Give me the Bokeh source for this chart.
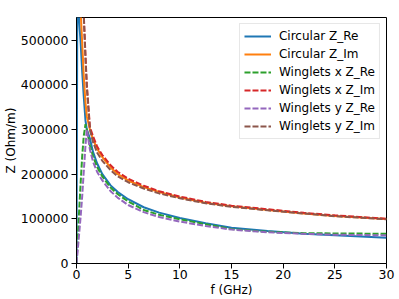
import numpy as np
from bokeh.plotting import figure
from bokeh.models import Range1d, FixedTicker, BasicTickFormatter
from bokeh.embed import file_html
from bokeh.resources import INLINE

# Frequency grid (GHz)
freq = [0, 0.1, 0.25, 0.4, 0.55, 0.7, 0.87, 1.0, 1.3, 1.6, 2, 2.5, 3.3, 4, 5, 6.5, 8,
        10, 12.5, 15, 18.5, 22, 25, 30]

# Impedance values (Ohm/m)
circ_re = [0, 750000, 545000, 495000, 430000, 375000, 320000, 300000, 280000, 250000,
           224000, 200000, 175000, 160000, 144000, 126000, 114000,
           102000, 90000, 80000, 72600, 66500, 63000, 57600]
circ_im = [None, 900000, 650000, 565000, 495000, 420000, 360000, 330000, 300000, 278000,
           257000, 238000, 215000, 200000, 186000, 171000, 160000,
           148000, 136000, 128000, 120000, 112000, 106500, 99500]
wx_re = [0, 45000, 115000, 180000, 240000, 285000, 312000, 300000, 265000, 240000,
         216000, 195000, 170000, 155000, 139000, 120000, 109000,
         99000, 88000, 77000, 71000, 68000, 67300, 66600]
wx_im = [None, 1500000, 1000000, 780000, 640000, 560000, 465000, 400000, 305000, 285000,
         262000, 243000, 220000, 205000, 190000, 174000, 162000,
         150000, 138000, 129500, 121500, 113500, 107800, 100300]
wy_re = [0, 25000, 65000, 105000, 150000, 205000, 265000, 300000, 255000, 228000,
         205000, 186000, 162000, 147000, 131000, 115000, 104000,
         94000, 84000, 76000, 70000, 66500, 64500, 62900]
wy_im = [None, 1500000, 1000000, 780000, 640000, 555000, 460000, 395000, 300000, 272000,
         248000, 230000, 209000, 195000, 182000, 168000, 157000,
         146000, 135000, 127000, 119000, 112000, 106000, 99000]

x_ticks = [0, 5, 10, 15, 20, 25, 30]
y_ticks = [0, 100000, 200000, 300000, 400000, 500000]

series = [
    ("Circular Z_Re", circ_re, "#1f77b4", "solid"),
    ("Circular Z_Im", circ_im, "#ff7f0e", "solid"),
    ("Winglets x Z_Re", wx_re, "#2ca02c", "6 2"),
    ("Winglets x Z_Im", wx_im, "#d62728", "6 2"),
    ("Winglets y Z_Re", wy_re, "#9467bd", "6 2"),
    ("Winglets y Z_Im", wy_im, "#8c564b", "6 2"),
]

p = figure(width=399, height=299, output_backend="svg", toolbar_location=None,
           x_range=Range1d(0, 30), y_range=Range1d(0, 551000),
           min_border_left=74, min_border_right=13, min_border_top=17, min_border_bottom=36,
           background_fill_color="white", border_fill_color="white")

f_arr = np.array(freq, dtype=float)
for label, vals, color, dash in series:
    v = np.array([np.nan if x is None else x for x in vals], dtype=float)
    p.line(f_arr, v, line_color=color, line_width=2, line_dash=dash, legend_label=label)

p.xgrid.visible = False
p.ygrid.visible = False
p.outline_line_color = "black"
p.outline_line_width = 1
p.outline_line_alpha = 1

p.xaxis.ticker = FixedTicker(ticks=x_ticks)
p.yaxis.ticker = FixedTicker(ticks=y_ticks)
p.yaxis.formatter = BasicTickFormatter(use_scientific=False)

for ax in (p.xaxis[0], p.yaxis[0]):
    ax.axis_line_color = "black"
    ax.major_tick_line_color = "black"
    ax.major_tick_in = 0
    ax.major_tick_out = 5
    ax.minor_tick_in = 0
    ax.minor_tick_out = 0
    ax.major_label_text_font = "DejaVu Sans"
    ax.major_label_text_font_size = "12.5px"
    ax.major_label_text_color = "black"
    ax.axis_label_text_font = "DejaVu Sans"
    ax.axis_label_text_font_size = "12px"
    ax.axis_label_text_font_style = "normal"
    ax.axis_label_text_color = "black"

p.xaxis.axis_label_standoff = 1
p.yaxis.axis_label_standoff = 0
p.xaxis.major_label_standoff = 1
p.yaxis.major_label_standoff = 3

p.xaxis.axis_label = "f (GHz)"
p.yaxis.axis_label = "Z (Ohm/m)"

lg = p.legend[0]
lg.location = "top_right"
lg.margin = 6
lg.padding = 4
lg.spacing = 2
lg.glyph_width = 27
lg.glyph_height = 16
lg.label_height = 16
lg.label_standoff = 8
lg.label_text_font = "DejaVu Sans"
lg.label_text_font_size = "12px"
lg.label_text_color = "black"
lg.border_line_color = "#d0d0d0"
lg.border_line_width = 1
lg.background_fill_alpha = 0.8

open("out.html", "w").write(file_html(p, INLINE))
